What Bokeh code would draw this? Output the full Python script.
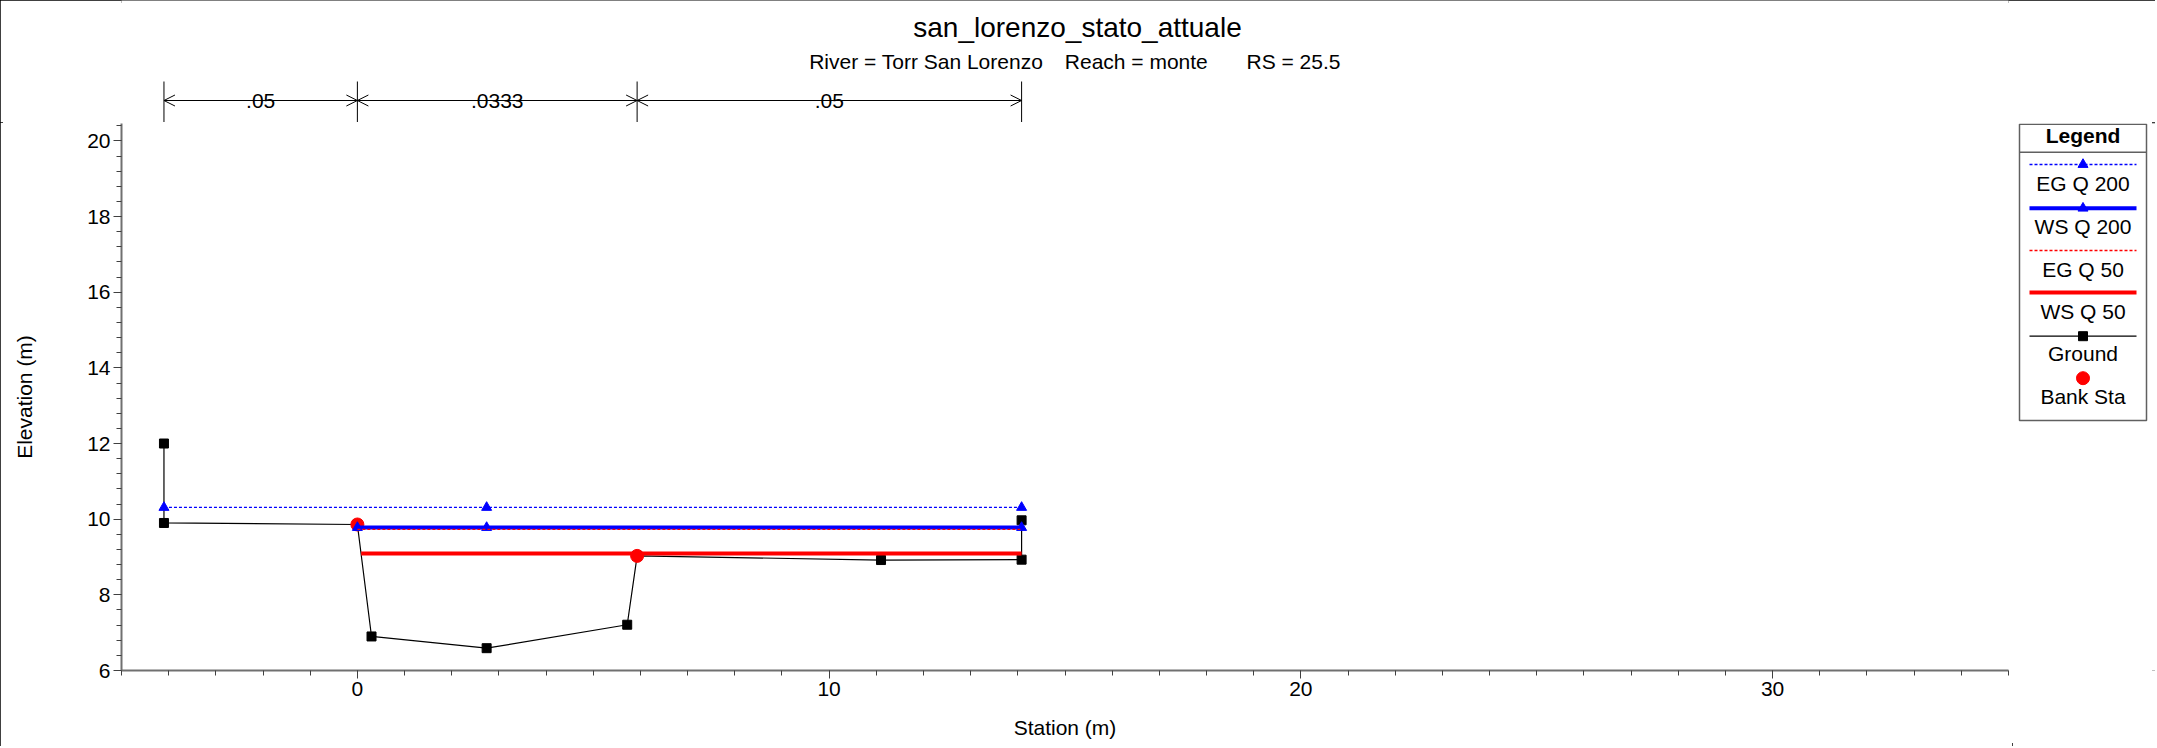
from bokeh.plotting import figure
from bokeh.models import Range1d, SingleIntervalTicker, Arrow, OpenHead, ColumnDataSource
from bokeh.layouts import row, column
from bokeh.core.properties import value
from bokeh.embed import file_html
from bokeh.resources import INLINE

# ---------------- data ----------------
ground_sta = [-4.1, -4.1, 0.0, 0.3, 2.74, 5.72, 5.93, 11.1, 14.08, 14.08]
ground_elev = [12.0, 9.90, 9.86, 6.90, 6.59, 7.21, 9.03, 8.92, 8.93, 9.97]
bank_sta = [0.0, 5.93]
bank_elev = [9.86, 9.03]
eg200_sta = [-4.1, 14.08]
eg200_elev = [10.31, 10.31]
eg200_mark_sta = [-4.1, 2.74, 14.08]
ws200_sta = [0.01, 14.08]
ws200_elev = [9.78, 9.78]
ws200_mark_sta = [0.0, 2.74, 14.08]
eg50_sta = [0.0, 14.08]
eg50_elev = [9.73, 9.73]
ws50_sta = [0.08, 14.08]
ws50_elev = [9.09, 9.09]
n_sta = [-4.1, 0.0, 5.93, 14.08]
n_vals = [".05", ".0333", ".05"]
title_text = "san_lorenzo_stato_attuale"
sub_texts = ["River = Torr San Lorenzo", "Reach = monte", "RS = 25.5"]
legend_names = ["EG Q 200", "WS Q 200", "EG Q 50", "WS Q 50", "Ground", "Bank Sta"]

FONT = "Liberation Sans"
BLUE = "#0000ff"
RED = "#ff0000"

# ---------------- layout constants (page pixels) ----------------
W, H = 2155, 746
TOP_H = 122                 # title / Manning's n strip
FRAME_L, FRAME_R = 121, 2008
FRAME_T, FRAME_B = 123, 670
LEG_W = W - 2012
X0, X1 = -5, 35
Y0, Y1 = 6, 20.46
FW = FRAME_R - FRAME_L


def xd(page_x):
    return X0 + (page_x - FRAME_L) * (X1 - X0) / FW


xr = Range1d(X0, X1)

# ---------------- top strip: titles + Manning's n ----------------
top = figure(width=W, height=TOP_H, x_range=xr, y_range=Range1d(TOP_H, 0),
             output_backend="svg", toolbar_location=None, x_axis_type=None, y_axis_type=None,
             min_border_left=FRAME_L, min_border_right=W - FRAME_R, min_border_top=0, min_border_bottom=0)
top.outline_line_color = None
top.xgrid.visible = False
top.ygrid.visible = False

top.text(x=[xd(1077)], y=[27], text=[title_text], text_align="center", text_baseline="middle",
         text_font=value(FONT), text_font_size="28px", text_color="black")
sub_x = [xd(1042.7), xd(1064.3), xd(1246)]
sub_al = ["right", "left", "left"]
for t, sx, al in zip(sub_texts, sub_x, sub_al):
    top.text(x=[sx], y=[61], text=[t], text_align=al, text_baseline="middle",
             text_font=value(FONT), text_font_size="21px", text_color="black")

top.segment(x0=n_sta, y0=[81] * len(n_sta), x1=n_sta, y1=[TOP_H] * len(n_sta),
            line_color="black", line_width=1)
hsrc = ColumnDataSource(dict(xs=n_sta[:-1], xe=n_sta[1:], y=[100] * (len(n_sta) - 1)))
top.add_layout(Arrow(start=OpenHead(size=11, line_width=1), end=OpenHead(size=11, line_width=1),
                     x_start="xs", y_start="y", x_end="xe", y_end="y",
                     source=hsrc, line_color="black", line_width=1))
mids = [(a + b) / 2 for a, b in zip(n_sta[:-1], n_sta[1:])]
pad_w = [(len(t) * 11.5 + 12) * (X1 - X0) / FW for t in n_vals]
top.rect(x=mids, y=[100] * len(mids), width=pad_w, height=[20] * len(mids),
         fill_color="white", line_color=None)
top.text(x=mids, y=[100] * len(mids), text=n_vals, text_align="center", text_baseline="middle",
         text_font=value(FONT), text_font_size="21px", text_color="black")

# ---------------- main plot ----------------
p = figure(width=2012, height=H - TOP_H, x_range=xr, y_range=Range1d(Y0, Y1),
           output_backend="svg", toolbar_location=None,
           min_border_left=FRAME_L, min_border_right=2012 - FRAME_R,
           min_border_top=FRAME_T - TOP_H, min_border_bottom=H - FRAME_B)
p.outline_line_color = None
p.xgrid.visible = False
p.ygrid.visible = False

p.xaxis.ticker = SingleIntervalTicker(interval=10, num_minor_ticks=10)
p.yaxis.ticker = SingleIntervalTicker(interval=2, num_minor_ticks=5)
for ax in (p.xaxis[0], p.yaxis[0]):
    ax.axis_line_color = "#707070"
    ax.axis_line_width = 2
    ax.major_tick_line_color = "#404040"
    ax.minor_tick_line_color = "#404040"
    ax.major_tick_in = 0
    ax.minor_tick_in = 0
    ax.major_tick_out = 8
    ax.minor_tick_out = 5
    ax.major_label_text_font = FONT
    ax.major_label_text_font_size = "21px"
    ax.major_label_text_color = "black"
    ax.axis_label_text_font = FONT
    ax.axis_label_text_font_size = "21px"
    ax.axis_label_text_font_style = "normal"
    ax.axis_label_text_color = "black"
p.xaxis.axis_label = "Station (m)"
p.yaxis.axis_label = "Elevation (m)"
p.xaxis.major_label_standoff = 3
p.xaxis.axis_label_standoff = 17
p.yaxis.major_label_standoff = 3
p.yaxis.axis_label_standoff = 48

p.line(ground_sta, ground_elev, line_color="black", line_width=1.2)
p.scatter(ground_sta, ground_elev, marker="square", size=9, fill_color="black", line_color="black")
p.scatter(bank_sta, bank_elev, marker="circle", size=13, fill_color=RED, line_color=RED)
p.line(ws50_sta, ws50_elev, line_color=RED, line_width=4)
p.line(ws200_sta, ws200_elev, line_color=BLUE, line_width=4)
p.scatter(ws200_mark_sta, [ws200_elev[0]] * len(ws200_mark_sta), marker="triangle", size=10,
          fill_color=BLUE, line_color=BLUE)
p.line(eg50_sta, eg50_elev, line_color=RED, line_width=1.3, line_dash="3 2")
p.line(eg200_sta, eg200_elev, line_color=BLUE, line_width=1.3, line_dash="3 2")
p.scatter(eg200_mark_sta, [eg200_elev[0]] * len(eg200_mark_sta), marker="triangle", size=10,
          fill_color=BLUE, line_color=BLUE)

# ---------------- legend panel (page-pixel coordinates) ----------------
lg = figure(width=LEG_W, height=H - TOP_H, x_range=Range1d(2012, W), y_range=Range1d(FRAME_B, FRAME_T),
            output_backend="svg", toolbar_location=None, x_axis_type=None, y_axis_type=None,
            min_border_left=0, min_border_right=0,
            min_border_top=FRAME_T - TOP_H, min_border_bottom=H - FRAME_B)
lg.outline_line_color = None
lg.xgrid.visible = False
lg.ygrid.visible = False
lg.quad(left=2019, right=2146, top=123.8, bottom=420, fill_color="white", line_color="#606060", line_width=1.5)
lg.segment(x0=2019, y0=151.7, x1=2146, y1=151.7, line_color="#606060", line_width=1.5)
cx = 2082.5
lg.text(x=[cx], y=[134.5], text=["Legend"], text_align="center", text_baseline="middle",
        text_font=value(FONT), text_font_size="21px", text_font_style="bold")
line_y = [164, 207.7, 250, 292, 335.7]
text_y = [182.9, 225.7, 269.2, 310.7, 352.8, 395.5]
lx = [2029, 2136]
lg.line(lx, [line_y[0]] * 2, line_color=BLUE, line_width=1.3, line_dash="3 2")
lg.scatter([cx], [line_y[0]], marker="triangle", size=10, fill_color=BLUE, line_color=BLUE)
lg.line(lx, [line_y[1]] * 2, line_color=BLUE, line_width=4)
lg.scatter([cx], [line_y[1]], marker="triangle", size=10, fill_color=BLUE, line_color=BLUE)
lg.line(lx, [line_y[2]] * 2, line_color=RED, line_width=1.3, line_dash="3 2")
lg.line(lx, [line_y[3]] * 2, line_color=RED, line_width=4)
lg.line(lx, [line_y[4]] * 2, line_color="black", line_width=1.2)
lg.scatter([cx], [line_y[4]], marker="square", size=9, fill_color="black", line_color="black")
lg.scatter([cx], [377.7], marker="circle", size=13, fill_color=RED, line_color=RED)
lg.text(x=[cx] * len(legend_names), y=text_y, text=legend_names, text_align="center",
        text_baseline="middle", text_font=value(FONT), text_font_size="21px")

layout = column(top, row(p, lg), styles={"outline": "3px solid black", "outline-offset": "-3px"})

open("out.html", "w").write(file_html(layout, INLINE))
